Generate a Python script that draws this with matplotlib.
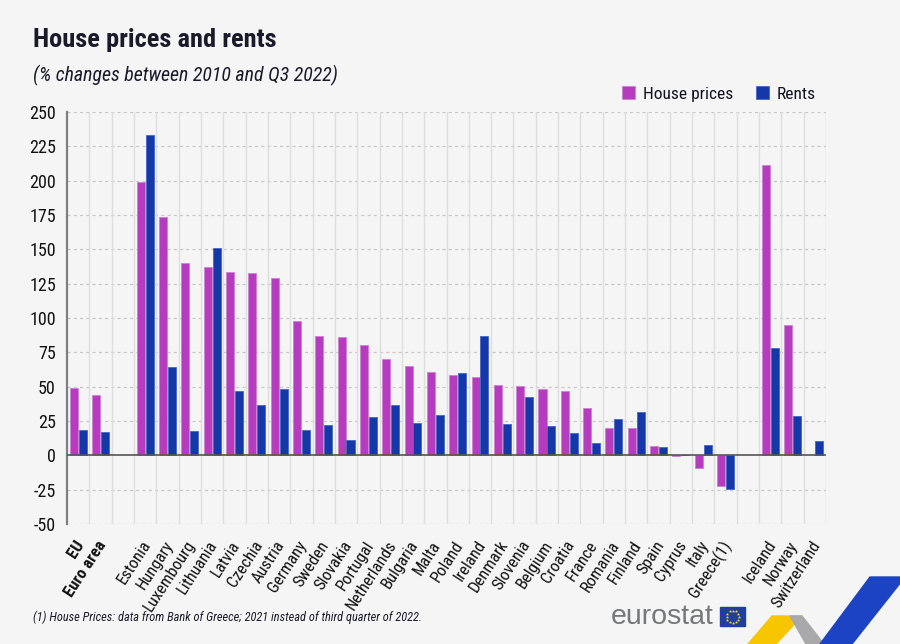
import matplotlib.pyplot as plt
from matplotlib import font_manager
from matplotlib.patches import Polygon, Rectangle
import numpy as np

# categories ('' = spacer slot)
countries = ['EU', 'Euro area', '',
             'Estonia', 'Hungary', 'Luxembourg', 'Lithuania', 'Latvia', 'Czechia',
             'Austria', 'Germany', 'Sweden', 'Slovakia', 'Portugal', 'Netherlands',
             'Bulgaria', 'Malta', 'Poland', 'Ireland', 'Denmark', 'Slovenia',
             'Belgium', 'Croatia', 'France', 'Romania', 'Finland', 'Spain',
             'Cyprus', 'Italy', 'Greece(1)', '',
             'Iceland', 'Norway', 'Switzerland']
house_prices = [49.0, 44.1, np.nan,
                198.8, 173.6, 140.2, 137.0, 133.6, 132.6,
                129.2, 97.7, 87.1, 86.3, 80.3, 69.8,
                64.7, 60.4, 58.3, 57.2, 51.2, 50.7,
                48.3, 46.9, 34.5, 19.8, 19.8, 7.0,
                -0.4, -9.2, -22.2, np.nan,
                211.6, 94.7, np.nan]
rents = [18.2, 17.2, np.nan,
         233.0, 64.5, 17.5, 151.1, 46.8, 36.9,
         48.5, 18.2, 22.1, 10.9, 27.6, 36.6,
         23.8, 29.3, 59.9, 87.0, 22.9, 42.8,
         21.0, 16.4, 9.2, 26.8, 31.2, 6.0,
         0.6, 7.7, -24.4, np.nan,
         78.3, 28.5, 10.6]
bold_labels = ['EU', 'Euro area']

PURPLE = '#b63cbf'
BLUE = '#1438a8'
BG = '#f5f5f5'

# pick a condensed face that also has a bold weight
def has_bold(name):
    for f in font_manager.fontManager.ttflist:
        if f.name == name:
            wgt = f.weight
            if isinstance(wgt, str):
                if wgt.lower() in ('bold', 'heavy', 'black', 'semibold', 'demibold', 'extra bold'):
                    return True
            elif wgt >= 600:
                return True
    return False

names = sorted({f.name for f in font_manager.fontManager.ttflist})
prefs = ['Liberation Sans Narrow', 'Roboto Condensed', 'Open Sans Condensed',
         'Noto Sans Condensed', 'Arial Narrow']
narrow = [n for n in prefs if n in names and has_bold(n)]
narrow += [n for n in names if ('Condensed' in n or 'Narrow' in n) and has_bold(n)]
if narrow:
    FONT = [narrow[0], 'DejaVu Sans']
else:
    FONT = ['Roboto', 'DejaVu Sans']

plt.rcParams['font.family'] = FONT
plt.rcParams['axes.unicode_minus'] = False

fig = plt.figure(figsize=(9, 6.44), dpi=100, facecolor=BG)
ax = fig.add_axes([67/900, 120/644, (826-67)/900, (524-112)/644])
ax.set_facecolor(BG)

x = np.arange(len(countries))
w = 0.36
ax.bar(x - 0.2, house_prices, w, color=PURPLE, edgecolor='#cf7fd5', linewidth=0.6, zorder=3, label='House prices')
ax.bar(x + 0.2, rents, w, color=BLUE, edgecolor='#4566c4', linewidth=0.6, zorder=3, label='Rents')

ax.set_xlim(-0.5, len(countries) - 0.5)
ax.set_ylim(-50, 250)
ax.set_yticks(np.arange(-50, 251, 25))
ax.tick_params(axis='y', length=0, labelsize=13, pad=8, labelcolor='#111111')

# grid: dashed horizontals, solid verticals at slot edges
for yv in np.arange(-50, 251, 25):
    if yv != 0:
        ax.axhline(yv, color='#c8c8c8', lw=0.9, ls=(0, (2.5, 2.5)), zorder=1)
for xv in np.arange(0.5, len(countries) - 0.4, 1):
    ax.axvline(xv, color='#dedede', lw=1.0, zorder=1)
ax.axhline(0, color='#555555', lw=1.2, zorder=4)

for s in ['top', 'right', 'bottom']:
    ax.spines[s].set_visible(False)
ax.spines['left'].set_color('#7a7f88')
ax.spines['left'].set_linewidth(1.6)

ax.set_xticks(x + 0.1)
ax.set_xticklabels(countries, rotation=57, ha='right', va='center',
                   rotation_mode='anchor', fontsize=12, color='#111111')
ax.tick_params(axis='x', length=0, pad=13)
for lab in ax.get_xticklabels():
    if lab.get_text() in bold_labels:
        lab.set_fontweight('bold')

# legend
leg = ax.legend(loc='lower right', bbox_to_anchor=(1.0, 1.0), ncol=2, frameon=False,
                fontsize=12.5, handlelength=0.75, handleheight=0.75, handletextpad=0.45,
                columnspacing=1.3, borderaxespad=0.2)
for t in leg.get_texts():
    t.set_color('#111122')

# titles and footnote
fig.text(33/900, 1 - 40/644, 'House prices and rents', fontsize=19, fontweight='bold',
         color='#1a1a2a', va='center', ha='left')
fig.text(33/900, 1 - 75/644, '(% changes between 2010 and Q3 2022)', fontsize=14.3,
         style='italic', color='#1a1a2a', va='center', ha='left')
fig.text(33/900, 1 - 617/644,
         '(1) House Prices: data from Bank of Greece; 2021 instead of third quarter of 2022.',
         fontsize=8.9, style='italic', color='#1a1a2a', va='center', ha='left')

# eurostat logo
fig.text(611/900, 1 - 617/644, 'eurostat', fontsize=20.5, color='#75777b',
         family=['Liberation Sans', 'DejaVu Sans'], va='center', ha='left')
fig.patches.append(Rectangle((720/900, 1 - 626/644), 25/900, 19/644,
                             transform=fig.transFigure, color='#1f3f9e'))
ang = np.linspace(0, 2*np.pi, 12, endpoint=False)
fig.lines.append(plt.Line2D((732.5 + 6*np.cos(ang))/900, 1 - (616.5 + 6*np.sin(ang))/644,
                            transform=fig.transFigure, ls='none', marker='*',
                            ms=2.5, color='#ffd21f', mec='none'))

# decorative corner shapes
def fig_poly(pts, color):
    xy = [(px/900, 1 - py/644) for px, py in pts]
    fig.patches.append(Polygon(xy, closed=True, transform=fig.transFigure,
                               color=color, zorder=0))

fig_poly([(748, 644), (776, 644), (802, 616), (772, 616)], '#f7c600')
fig_poly([(790, 616), (802, 616), (824, 644), (806, 644)], '#a9a9ab')
fig_poly([(820, 644), (852, 644), (905, 577), (870, 577)], '#1b43c3')

fig.savefig('out.png', dpi=100, facecolor=BG)
